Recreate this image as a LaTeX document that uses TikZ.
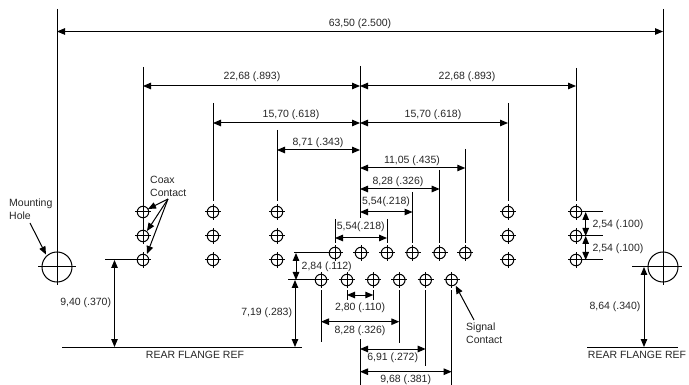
\documentclass[tikz,border=0pt]{standalone}
\usepackage{fontspec}
\setmainfont{Liberation Sans}
\usetikzlibrary{arrows.meta}
\tikzset{
  x=1pt,y=-1pt,
  every node/.style={font=\fontsize{10.5}{13}\selectfont,text=black!85,inner sep=0pt},
  lbl/.style={anchor=center},
  note/.style={anchor=west,align=left},
  contactbox/.style={circle,draw,line width=1pt,minimum size=11.5pt},
  ext/.style={line width=1pt},
  dim/.style={line width=1pt,{Triangle[length=8pt,width=6.5pt]}-{Triangle[length=8pt,width=6.5pt]}},
  lead/.style={line width=1pt,-{Triangle[length=8pt,width=6.5pt]}},
}
\newcommand{\contact}[3]{\node[contactbox] (#1) at (#2,#3) {};
  \draw[ext] ([xshift=-8pt]#1.center) -- ([xshift=8pt]#1.center);
  \draw[ext] ([yshift=-8pt]#1.center) -- ([yshift=8pt]#1.center);}
\begin{document}
\begin{tikzpicture}
\useasboundingbox[fill=white] (0,0) rectangle (689,385);
% mounting holes
\node[circle,draw,line width=1pt,minimum size=30pt] (hl) at (57,267) {};
\node[circle,draw,line width=1pt,minimum size=30pt] (hr) at (663,267) {};
\coordinate (hlW) at (38,267); \coordinate (hlE) at (76,267); \coordinate (hlS) at (57,285);
\coordinate (hrW) at (632,267); \coordinate (hrE) at (682,267); \coordinate (hrS) at (663,285);
\coordinate (tl) at (57,9); \coordinate (tr) at (663,9);
\draw[ext] (hlW) -- (hlE); \draw[ext] (tl) -- (hlS);
\draw[ext] (hrW) -- (hrE); \draw[ext] (tr) -- (hrS);
% coax contacts
\contact{a1}{143}{212}\contact{a2}{143}{236}\contact{a3}{143}{260}
\contact{b1}{213}{212}\contact{b2}{213}{236}\contact{b3}{213}{260}
\contact{c1}{277}{212}\contact{c2}{277}{236}\contact{c3}{277}{260}
\contact{d1}{508}{212}\contact{d2}{508}{236}\contact{d3}{508}{260}
\contact{e1}{576}{212}\contact{e2}{576}{236}\contact{e3}{576}{260}
% signal contacts
\contact{u1}{335}{253}\contact{u2}{361}{253}\contact{u3}{387}{253}
\contact{u4}{412.5}{253}\contact{u5}{439.7}{253}\contact{u6}{465.3}{253}
\contact{l1}{321}{280}\contact{l2}{347}{280}\contact{l3}{373.3}{280}
\contact{l4}{399.3}{280}\contact{l5}{425.7}{280}\contact{l6}{451.7}{280}
% reference coordinates
\coordinate (cT) at (360,66); \coordinate (cB) at (360,218);
\coordinate (cT2) at (360,339); \coordinate (cB2) at (360,385);
\draw[ext] (cT) -- (cB); \draw[ext] (cT2) -- (cB2);
% extension lines
\draw[ext] (143,67) -- (a2.center);
\draw[ext] (213,103) -- (213,201);
\draw[ext] (277,130) -- (277,201);
\draw[ext] (508,103) -- (508,201);
\draw[ext] (576,68) -- (576,201);
\draw[ext] (465.3,149) -- (465.3,243);
\draw[ext] (439.7,170) -- (439.7,243);
\draw[ext] (412.5,192) -- (412.5,243);
\draw[ext] (335,219) -- (335,243);
\draw[ext] (387,219) -- (387,243);
\draw[ext] (321,290) -- (321,341.5);
\draw[ext] (347,290) -- (347,300);
\draw[ext] (373.3,290) -- (373.3,300);
\draw[ext] (399.3,290) -- (399.3,343);
\draw[ext] (425.7,290) -- (425.7,366);
\draw[ext] (451.7,290) -- (451.7,385);
\draw[ext] (105,260) -- (a3.center);
\draw[ext] (294,253) -- (u1.center);
\draw[ext] (288,280) -- (l1.center);
\draw[ext] (e1.center) -- (603,212);
\draw[ext] (e2.center) -- (603,236);
\draw[ext] (e3.center) -- (603,260);
\coordinate (fl1) at (62,347); \coordinate (fl2) at (302,347);
\coordinate (fr1) at (587,347); \coordinate (fr2) at (678,347);
\draw[ext] (fl1) -- (fl2); \draw[ext] (fr1) -- (fr2);
% dimensions
\draw[dim] (hl.center |- 0,31.5) -- (hr.center |- 0,31.5);
\node[lbl] (t1) at (360,24) {63,50 (2.500)};
\draw[dim] (a1.center |- 0,86) -- (cT |- 0,86);
\draw[dim] (cT |- 0,86) -- (e1.center |- 0,86);
\node[lbl] (t2) at (252,77) {22,68 (.893)};
\node[lbl] (t3) at (467,77) {22,68 (.893)};
\draw[dim] (b1.center |- 0,123) -- (cT |- 0,123);
\draw[dim] (cT |- 0,123) -- (d1.center |- 0,123);
\node[lbl] (t4) at (291,115) {15,70 (.618)};
\node[lbl] (t5) at (433,115) {15,70 (.618)};
\draw[dim] (c1.center |- 0,150) -- (cT |- 0,150);
\node[lbl] (t6) at (318,143) {8,71 (.343)};
\draw[dim] (cT |- 0,168) -- (u6.center |- 0,168);
\node[lbl] (t7) at (412,160.5) {11,05 (.435)};
\draw[dim] (cT |- 0,189) -- (u5.center |- 0,189);
\node[lbl] (t8) at (398,182) {8,28 (.326)};
\draw[dim] (cT |- 0,212) -- (u4.center |- 0,212);
\node[lbl] (t9) at (386,201.5) {5,54(.218)};
\draw[dim] (u1.center |- 0,238) -- (u3.center |- 0,238);
\node[lbl] (t10) at (360.7,227) {5,54(.218)};
\draw[dim] (296,253) -- (296,280);
\node[lbl] (t11) at (326.7,266.7) {2,84 (.112)};
\draw[dim] (295,280) -- (295,347);
\node[lbl] (t12) at (266.7,313) {7,19 (.283)};
\draw[dim] (l2.center |- 0,295) -- (l3.center |- 0,295);
\node[lbl] (t13) at (360,308) {2,80 (.110)};
\draw[dim] (l1.center |- 0,321.7) -- (l4.center |- 0,321.7);
\node[lbl] (t14) at (360,330.7) {8,28 (.326)};
\draw[dim] (cT |- 0,349) -- (l5.center |- 0,349);
\node[lbl] (t15) at (392.7,358) {6,91 (.272)};
\draw[dim] (cT |- 0,371.7) -- (l6.center |- 0,371.7);
\node[lbl] (t16) at (405.7,380) {9,68 (.381)};
\draw[dim] (114.5,260) -- (114.5,347);
\node[lbl] (t17) at (85.7,303) {9,40 (.370)};
\draw[dim] (585.7,212) -- (585.7,236);
\draw[dim] (585.7,236) -- (585.7,260);
\node[lbl] (t18) at (618,224.3) {2,54 (.100)};
\node[lbl] (t19) at (618,248.3) {2,54 (.100)};
\draw[dim] (644,267) -- (644,347);
\node[lbl] (t20) at (615,307) {8,64 (.340)};
\node[lbl] (t21) at (195,355) {REAR FLANGE REF};
\node[lbl] (t22) at (637,355) {REAR FLANGE REF};
% notes
\node[note] (mh) at (9,209) {Mounting\\Hole};
\node[note] (cx) at (150,186.5) {Coax\\Contact};
\node[note] (sc) at (466,333.5) {Signal\\Contact};
\coordinate (mhA) at (30,223); \draw[lead] (mhA) -- (46,254.5);
\coordinate (cxA) at (168,199);
\draw[lead] (cxA) -- (148,209);
\draw[lead] (cxA) -- (147,231);
\draw[lead] (cxA) -- (147,254);
\coordinate (scA) at (474,320); \draw[lead] (scA) -- (455.7,285.7);
\end{tikzpicture}
\end{document}
